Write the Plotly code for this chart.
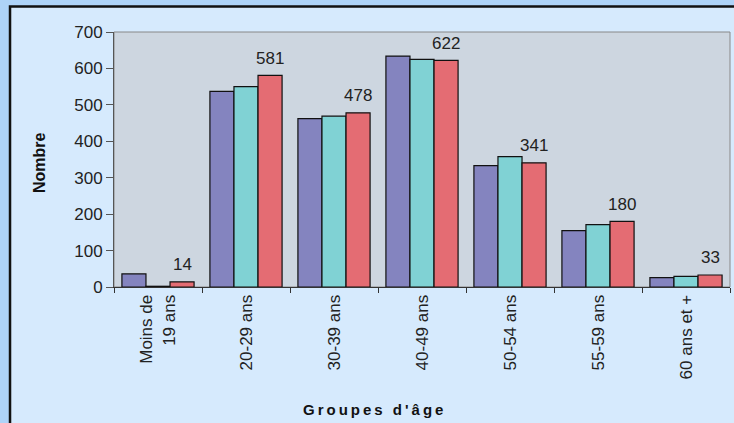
import plotly.graph_objects as go

categories = ["Moins de<br>19 ans", "20-29 ans", "30-39 ans", "40-49 ans", "50-54 ans", "55-59 ans", "60 ans et +"]
serie_a = [36, 537, 462, 634, 333, 155, 26]
serie_b = [2, 550, 469, 625, 358, 171, 29]
serie_c = [14, 581, 478, 622, 341, 180, 33]
y_ticks = [0, 100, 200, 300, 400, 500, 600, 700]

colors = ["#8484bf", "#80d2d4", "#e46c73"]
font_fam = "Liberation Sans, Arial, sans-serif"
TS = "\u2009"


def spaced(s):
    return TS.join(list(s))


fig = go.Figure()
for vals, col in [(serie_a, colors[0]), (serie_b, colors[1]), (serie_c, colors[2])]:
    fig.add_trace(go.Bar(
        x=categories, y=vals,
        marker=dict(color=col, line=dict(color="#111111", width=1.2)),
        cliponaxis=False,
    ))

annotations = []
for cat, v in zip(categories, serie_c):
    annotations.append(dict(
        x=cat, y=v, xref="x", yref="y", text=str(v), showarrow=False,
        xshift=24, yshift=17, yanchor="middle", xanchor="center",
        font=dict(size=17, color="#222222", family=font_fam),
    ))
annotations.append(dict(
    x=0.4205, y=-0.482, xref="paper", yref="paper", showarrow=False,
    text="<b>" + spaced("Groupes d'âge") + "</b>", xanchor="center", yanchor="middle",
    font=dict(size=15, color="#111111", family=font_fam),
))
annotations.append(dict(
    x=-0.1218, y=0.49, xref="paper", yref="paper", showarrow=False, textangle=-90,
    text="<b>Nombre</b>", xanchor="center", yanchor="middle",
    font=dict(size=16, color="#111111", family=font_fam),
))

fig.update_layout(
    width=734, height=423,
    margin=dict(l=114, r=4, t=32, b=136, autoexpand=False),
    paper_bgcolor="#aed3f8",
    plot_bgcolor="#cdd6e0",
    barmode="group", bargap=0.18, bargroupgap=0,
    showlegend=False,
    font=dict(family=font_fam, color="#222222"),
    annotations=annotations,
    shapes=[
        dict(type="rect", xref="paper", yref="paper", x0=-0.1688, x1=1.05, y0=-0.6, y1=1.1,
             fillcolor="#d6eafd", line=dict(color="#111111", width=2.5), layer="below"),
        dict(type="rect", xref="paper", yref="paper", x0=0, x1=1, y0=0, y1=1,
             fillcolor="#cdd6e0", line=dict(color="#888888", width=1), layer="below"),
    ],
    xaxis=dict(
        tickangle=-90, tickfont=dict(size=17, color="#222222"),
        showline=True, linecolor="#333333", linewidth=1,
        ticks="outside", tickson="boundaries", ticklen=5, tickcolor="#333333",
    ),
    yaxis=dict(
        range=[0, 700], tickvals=y_ticks, showgrid=False,
        tickfont=dict(size=17, color="#222222"),
        showline=True, linecolor="#555555", linewidth=1,
        ticks="outside", ticklen=7, tickcolor="#555555",
        zeroline=False,
    ),
)

fig.write_html(
    "out.html",
    config={"displayModeBar": False},
    post_script="document.body.style.margin='0';document.body.style.background='#aed3f8';document.body.style.overflow='hidden';",
)
